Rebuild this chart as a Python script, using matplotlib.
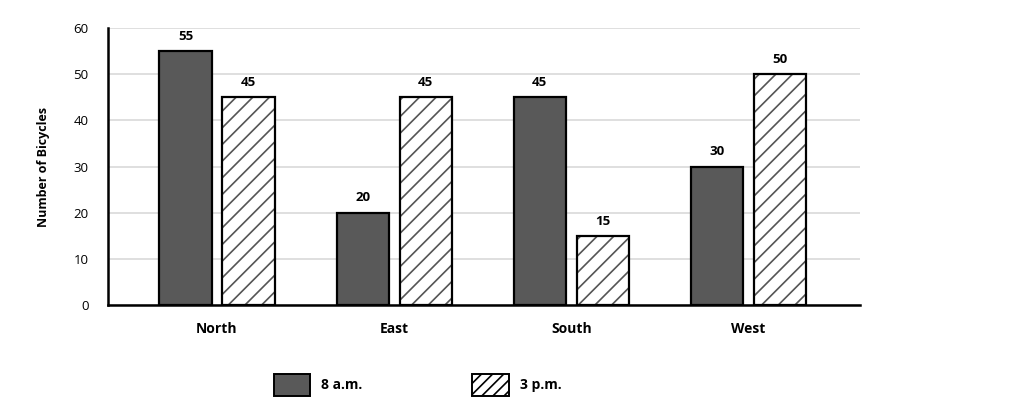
import matplotlib
matplotlib.use("Agg")
import matplotlib.pyplot as plt
import numpy as np
from matplotlib.patches import Patch

regions = ["North", "East", "South", "West"]
am_8 = [55, 20, 45, 30]
pm_3 = [45, 45, 15, 50]
series_names = ["8 a.m.", "3 p.m."]

plt.rcParams['font.family'] = ['Open Sans', 'DejaVu Sans']
plt.rcParams['hatch.linewidth'] = 1.2

fig = plt.figure(figsize=(10.24, 4.18), dpi=100)
ax = fig.add_axes([0.1055, 0.270, 0.7345, 0.663])

x = np.arange(len(regions))
w = 0.295
off = 0.178
dark = "#595959"

ax.bar(x - off, am_8, w, color=dark, edgecolor="black", linewidth=1.6, zorder=3)
# hatch in grey, outline in black
ax.bar(x + off, pm_3, w, color="white", edgecolor="#555555", hatch="//", linewidth=0, zorder=3)
ax.bar(x + off, pm_3, w, fill=False, edgecolor="black", linewidth=1.6, zorder=4)

for xi, v in zip(x - off, am_8):
    ax.annotate(str(v), (xi, v), xytext=(0, 6), textcoords="offset points",
                ha="center", va="bottom", fontsize=9.5, fontweight="bold")
for xi, v in zip(x + off, pm_3):
    ax.annotate(str(v), (xi, v), xytext=(0, 6), textcoords="offset points",
                ha="center", va="bottom", fontsize=9.5, fontweight="bold")

ax.set_xlim(-0.615, 3.63)
ax.set_ylim(0, 60)
ax.set_yticks(range(0, 61, 10))
ax.set_xticks(x)
ax.set_xticklabels(regions, fontsize=10, fontweight="bold")
for lab in ax.get_yticklabels():
    lab.set_fontsize(9.5)
ax.tick_params(axis="both", length=0)
ax.tick_params(axis="x", pad=12)
ax.tick_params(axis="y", pad=14)
ax.grid(axis="y", color="#d9d9d9", linewidth=1.2, zorder=0)
ax.set_axisbelow(True)
for s in ["top", "right"]:
    ax.spines[s].set_visible(False)
ax.spines["left"].set_linewidth(1.8)
ax.spines["bottom"].set_linewidth(1.8)
ax.spines["left"].set_zorder(5)
ax.spines["bottom"].set_zorder(5)
ax.set_ylabel("Number of Bicycles", fontsize=9, fontweight="bold", labelpad=17)

handles = [Patch(facecolor=dark, edgecolor="black", linewidth=1.4),
           Patch(facecolor="white", edgecolor="black", hatch="///", linewidth=1.4)]
leg = fig.legend(handles, series_names, loc="center", bbox_to_anchor=(0.408, 0.079),
                 ncol=2, frameon=False, handlelength=2.6, handleheight=2.0,
                 handletextpad=0.85, columnspacing=7.9,
                 prop={"weight": "bold", "size": 10})

fig.savefig("out.png", dpi=100)
